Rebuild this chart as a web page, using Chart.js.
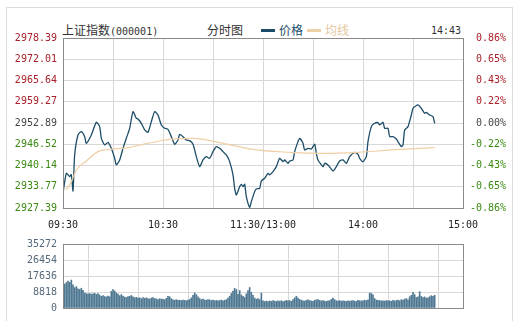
<!DOCTYPE html>
<html>
<head>
<meta charset="utf-8">
<script src="https://cdn.jsdelivr.net/npm/chart.js@4"></script>
<style>
    html, body { margin: 0; padding: 0; background: #fff; }
    body { width: 517px; height: 329px; position: relative; overflow: hidden; }
    .frame { position: absolute; left: 6px; top: 7px; width: 505px; height: 313px; border: 1px solid #dcdcdc; border-bottom: none; }
    .txt { position: absolute; top: 23px; font: 12px/13px "Noto Sans CJK SC", sans-serif; color: #333; white-space: nowrap; }
    .mono { font-family: "DejaVu Sans Mono", monospace; font-size: 10px; }
    .key { display: inline-block; width: 14px; height: 3px; vertical-align: 3px; margin-right: 4px; }
    #price-chart { position: absolute; left: 0; top: 0; }
    #volume-chart { position: absolute; left: 0; top: 232px; }
</style>
</head>
<body>
<div class="frame"></div>
<div class="txt" style="left:62px">上证指数<span class="mono">(000001)</span></div>
<div class="txt" style="left:207px">分时图</div>
<div class="txt" style="left:261px; color:#1c4d68"><span class="key" style="background:#1c4d68"></span>价格</div>
<div class="txt" style="left:307px; color:#e3c79c"><span class="key" style="background:#edd2a8"></span>均线</div>
<div class="txt mono" style="left:431px; top:24px">14:43</div>
<canvas id="price-chart" width="517" height="232"></canvas>
<canvas id="volume-chart" width="517" height="97"></canvas>
<script>
// previous close, middle of the price axis
const prevClose = 2952.89;

const priceTicks = [2927.39, 2933.77, 2940.14, 2946.52, 2952.89, 2959.27, 2965.64, 2972.01, 2978.39];
const pctLabels = ['-0.86%', '-0.65%', '-0.43%', '-0.22%', '0.00%', '0.22%', '0.43%', '0.65%', '0.86%'];
const timeLabels = ['09:30', '', '10:30', '', '11:30/13:00', '', '14:00', '', '15:00'];
const volumeTicks = [0, 8818, 17636, 26454, 35272];

// minutes since 09:30 (lunch break removed)
const priceMinutes = [0, 2, 4, 5, 6, 7, 9, 11, 13, 14, 17, 20, 22, 23, 25, 27, 29, 31, 32, 34,
    36, 38, 40, 42, 44, 45, 47, 49, 51, 53, 55, 57, 59, 61, 63, 65, 67, 69, 70, 72,
    74, 76, 78, 80, 82, 84, 86, 88, 90, 92, 94, 96, 98, 100, 102, 103, 104, 106, 107, 108,
    109, 110, 112, 113, 115, 116, 118, 119, 121, 123, 124, 126, 128, 130, 132, 133, 135, 136, 138, 139,
    141, 142, 144, 145, 147, 149, 151, 152, 153, 156, 157, 159, 162, 164, 166, 168, 170, 172, 175, 177,
    178, 180, 182, 183, 185, 187, 189, 190, 192, 193, 195, 196, 198, 200, 201, 203, 204, 205, 207, 209,
    210, 213, 215, 217, 218, 220, 222, 223];
const prices = [2931.8, 2937.8, 2936.8, 2937.4, 2932.5, 2943.3, 2949.3, 2950.3, 2948.8, 2946.8,
    2949.3, 2953.1, 2951.8, 2948.3, 2946.3, 2947.1, 2945.3, 2942.3, 2940.3, 2941.8,
    2945.3, 2948.3, 2951.3, 2956.3, 2954.3, 2954.1, 2952.8, 2950.8, 2950.1, 2953.3,
    2956.3, 2955.3, 2952.3, 2951.3, 2951.0, 2948.8, 2946.5, 2947.8, 2949.5, 2948.8,
    2947.8, 2947.6, 2946.5, 2942.8, 2939.8, 2941.8, 2942.8, 2942.3, 2944.3, 2945.8,
    2945.3, 2944.3, 2943.3, 2941.3, 2937.3, 2933.3, 2931.3, 2933.8, 2934.5, 2933.8,
    2934.5, 2930.8, 2927.6, 2929.3, 2932.3, 2933.1, 2933.3, 2935.5, 2936.3, 2937.8,
    2937.3, 2938.3, 2939.8, 2942.3, 2941.3, 2941.8, 2940.8, 2941.5, 2941.8, 2944.3,
    2947.3, 2948.3, 2946.8, 2944.8, 2945.3, 2945.1, 2946.5, 2943.8, 2941.8, 2939.8,
    2940.8, 2940.3, 2938.5, 2939.8, 2941.5, 2941.8, 2940.8, 2942.8, 2944.1, 2943.5,
    2942.3, 2941.3, 2942.8, 2947.3, 2951.8, 2952.8, 2953.0, 2952.3, 2953.1, 2951.3,
    2951.3, 2948.8, 2948.8, 2948.1, 2947.3, 2945.8, 2946.3, 2950.8, 2951.8, 2955.3,
    2957.3, 2958.3, 2957.3, 2955.8, 2956.1, 2955.3, 2954.8, 2952.8];

const avgMinutes = [2, 5, 8, 14, 21, 28, 38, 48, 58, 66, 78, 96, 116, 136, 156, 177, 197, 223];
const avgPrices = [2932.8, 2935.3, 2938.8, 2941.5, 2944.3, 2945.0, 2945.4, 2946.5, 2947.5,
    2948.1, 2948.3, 2946.8, 2944.8, 2944.1, 2943.8, 2944.1, 2944.8, 2945.5];

// one bar per minute, 09:30 .. 14:43
const volumes = [
    14500, 13200, 14000, 14800, 14200, 15400, 12800, 11200, 11800, 10600,
    10200, 10900, 9800, 8200, 7900, 7700, 8000, 7600, 7800, 8100,
    7500, 7900, 7200, 6400, 6900, 6300, 6100, 6600, 6200, 9200,
    10200, 9400, 8300, 7700, 6800, 7400, 6600, 6000, 5800, 6300,
    6500, 6900, 6200, 5700, 5900, 5400, 5600, 5100, 5700, 5300,
    5600, 5200, 4900, 5500, 5800, 5200, 5000, 4700, 5100, 4900,
    4800, 4600, 5300, 6500, 6200, 5100, 4500, 4300, 4600, 4200,
    4300, 4100, 4400, 4200, 4000, 4300, 4700, 5600, 7000, 8300,
    7400, 6100, 5200, 4600, 4900, 4400, 4300, 4700, 4500, 4100,
    4300, 4000, 4200, 3900, 4100, 4400, 4000, 4300, 4600, 5400,
    6500, 8000, 9300, 10800, 10200, 7600, 9600, 7200, 6400, 5800,
    7800, 9600, 11300, 8600, 7000, 5500, 4800, 5200, 4600, 8200,
    4000, 3600, 3800, 3500, 3900, 3700, 4100, 3800, 3600, 3900,
    3700, 4000, 3500, 3800, 4200, 3900, 4100, 3700, 4600, 5600,
    6500, 5400, 4700, 4300, 4000, 3800, 4200, 4500, 4100, 3900,
    3700, 4300, 4500, 4600, 4200, 3900, 4100, 3800, 3600, 3900,
    4000, 4800, 5400, 4600, 4000, 3800, 4100, 3700, 3900, 3800,
    3600, 3900, 3700, 4000, 4100, 3800, 3600, 4200, 4000, 3900,
    3900, 4300, 4100, 4500, 8200, 8000, 7200, 5200, 4400, 4200,
    4100, 3900, 4000, 3800, 4100, 3900, 4000, 3700, 4200, 3900,
    4100, 4400, 4000, 4600, 4300, 4900, 5200, 4500, 6200, 7000,
    8600, 7400, 5800, 6200, 9000, 6400, 5800, 6100, 5500, 5600,
    6200, 6800, 6500, 7000
];

const monoFont = { family: 'DejaVu Sans Mono', size: 10 };
const gridStyle = { color: '#d8d8d8', borderDash: [3, 2], drawTicks: false };

function tickColor(value) {
    if (Math.abs(value - prevClose) < 0.01) return '#444';
    return value > prevClose ? '#a8202a' : '#3a8a12';
}

// plot frame
const framePlugin = {
    id: 'frame',
    afterDraw(chart) {
        const { ctx, chartArea: a } = chart;
        ctx.save();
        ctx.strokeStyle = '#8a8a8a';
        ctx.lineWidth = 1;
        ctx.strokeRect(Math.round(a.left) + 0.5, Math.round(a.top) + 0.5,
            Math.round(a.right - a.left), Math.round(a.bottom - a.top));
        ctx.restore();
    }
};

const xScale = {
    type: 'linear',
    min: 0,
    max: 240,
    grid: gridStyle,
    border: { display: false },
    ticks: {
        stepSize: 30,
        padding: 11,
        color: '#222',
        font: monoFont,
        maxRotation: 0,
        autoSkip: false,
        callback: (v) => timeLabels[Math.round(v / 30)]
    },
    afterFit: (s) => { s.height = 24; }
};

new Chart(document.getElementById('price-chart'), {
    type: 'line',
    data: {
        datasets: [{
            label: '均线',
            data: avgMinutes.map((m, i) => ({ x: m, y: avgPrices[i] })),
            borderColor: '#efcfa6',
            borderWidth: 1.2,
            pointRadius: 0,
            cubicInterpolationMode: 'monotone'
        }, {
            label: '价格',
            data: priceMinutes.map((m, i) => ({ x: m, y: prices[i] })),
            borderColor: '#1c4d68',
            borderWidth: 1.3,
            pointRadius: 0,
            tension: 0.2
        }]
    },
    options: {
        responsive: false,
        animation: false,
        layout: { padding: { top: 38, right: 11, left: 0, bottom: 0 } },
        plugins: { legend: { display: false }, tooltip: { enabled: false } },
        scales: {
            x: xScale,
            y: {
                position: 'left',
                min: priceTicks[0],
                max: priceTicks[priceTicks.length - 1],
                grid: gridStyle,
                border: { display: false },
                afterBuildTicks: (s) => { s.ticks = priceTicks.map(v => ({ value: v })); },
                afterFit: (s) => { s.width = 63; },
                ticks: {
                    padding: 6,
                    font: monoFont,
                    color: (c) => tickColor(c.tick.value),
                    callback: (v) => v.toFixed(2)
                }
            },
            y2: {
                position: 'right',
                min: priceTicks[0],
                max: priceTicks[priceTicks.length - 1],
                grid: { display: false },
                border: { display: false },
                afterBuildTicks: (s) => { s.ticks = priceTicks.map(v => ({ value: v })); },
                afterFit: (s) => { s.width = 43; },
                ticks: {
                    crossAlign: 'far',
                    font: monoFont,
                    color: (c) => tickColor(c.tick.value),
                    callback: (v, i) => pctLabels[i]
                }
            }
        }
    },
    plugins: [framePlugin]
});

new Chart(document.getElementById('volume-chart'), {
    type: 'bar',
    data: {
        datasets: [{
            label: '成交量',
            data: volumes.map((v, i) => ({ x: i, y: v })),
            backgroundColor: '#4f7892',
            barThickness: 1,
            grouped: false
        }]
    },
    options: {
        responsive: false,
        animation: false,
        layout: { padding: { top: 6, right: 54, left: 0, bottom: 21 } },
        plugins: { legend: { display: false }, tooltip: { enabled: false } },
        scales: {
            x: {
                type: 'linear',
                min: 0,
                max: 240,
                offset: false,
                grid: gridStyle,
                border: { display: false },
                ticks: { stepSize: 30, display: false },
                afterFit: (s) => { s.height = 0; }
            },
            y: {
                min: 0,
                max: volumeTicks[volumeTicks.length - 1],
                grid: gridStyle,
                border: { display: false },
                afterBuildTicks: (s) => { s.ticks = volumeTicks.map(v => ({ value: v })); },
                afterFit: (s) => { s.width = 63; },
                ticks: {
                    padding: 6,
                    font: monoFont,
                    color: '#55697a',
                    callback: (v) => String(v)
                }
            }
        }
    },
    plugins: [framePlugin]
});
</script>
</body>
</html>
